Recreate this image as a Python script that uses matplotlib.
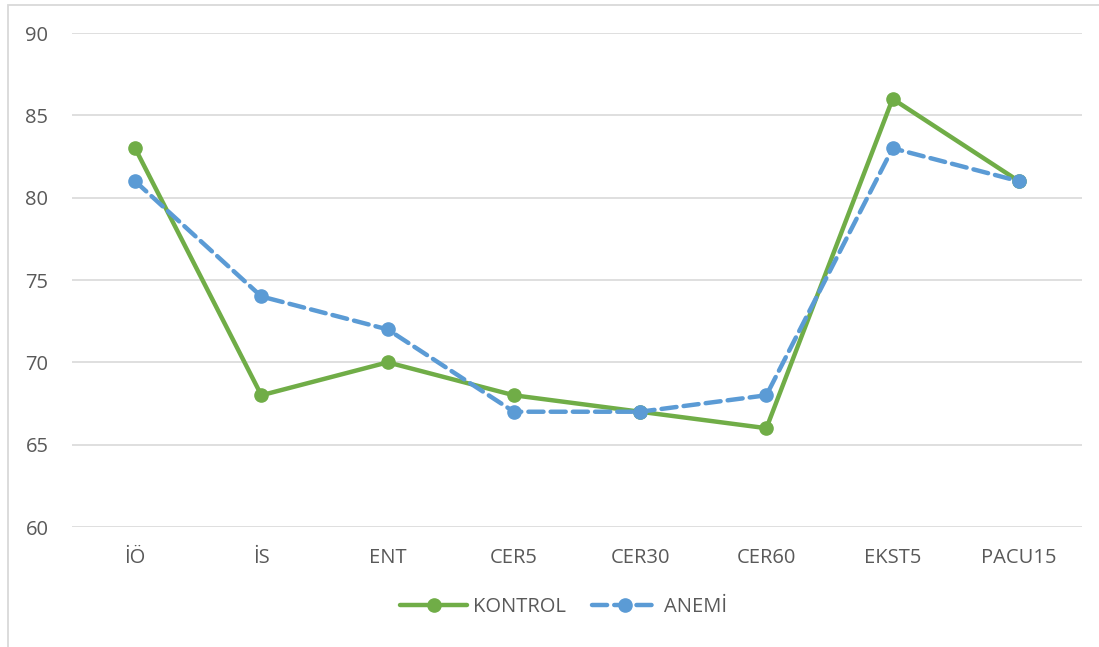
import matplotlib
matplotlib.use("Agg")
import matplotlib.pyplot as plt
from matplotlib.patches import Rectangle

categories = ["İÖ", "İS", "ENT", "CER5", "CER30", "CER60", "EKST5", "PACU15"]
kontrol = [83, 68, 70, 68, 67, 66, 86, 81]
anemi = [81, 74, 72, 67, 67, 68, 83, 81]
yticks = [60, 65, 70, 75, 80, 85, 90]

plt.rcParams['font.family'] = ['Open Sans', 'DejaVu Sans']
txt = '#595959'
grid = '#D9D9D9'

fig = plt.figure(figsize=(10.99, 6.47), dpi=100)
ax = fig.add_axes([72/1099, 1-527/647, (1082-72)/1099, (527-33)/647])

x = list(range(len(categories)))
ax.plot(x, kontrol, color='#70AD47', lw=3.2, marker='o', ms=9.5,
        solid_capstyle='round', label='KONTROL', zorder=3)
ax.plot(x, anemi, color='#5B9BD5', lw=3.2, marker='o', ms=9.5,
        linestyle=(0, (3.4, 1.6)), dash_capstyle='round', label='ANEMİ', zorder=4)

ax.set_xlim(-0.5, len(categories) - 0.5)
ax.set_ylim(60, 90)
ax.set_yticks(yticks)
ax.set_xticks(x)
ax.set_xticklabels(categories)
ax.tick_params(length=0, colors=txt, labelsize=14.5)
ax.tick_params(axis='y', pad=17)
ax.tick_params(axis='x', pad=15)
ax.grid(axis='y', color=grid, lw=1.2)
ax.set_axisbelow(True)
for s in ax.spines.values():
    s.set_visible(False)

leg = ax.legend(loc='upper center', bbox_to_anchor=(0.487, -0.105), ncol=2,
                frameon=False, fontsize=14.5, handlelength=3.3, columnspacing=1.3,
                handletextpad=0.3)
for t in leg.get_texts():
    t.set_color(txt)

fig.patches.append(Rectangle((8/1099, -0.1), 1.2, 1 - 5/647 + 0.1,
                             transform=fig.transFigure, fill=False,
                             edgecolor='#D9D9D9', lw=1.3))

fig.savefig('out.png', dpi=100)
